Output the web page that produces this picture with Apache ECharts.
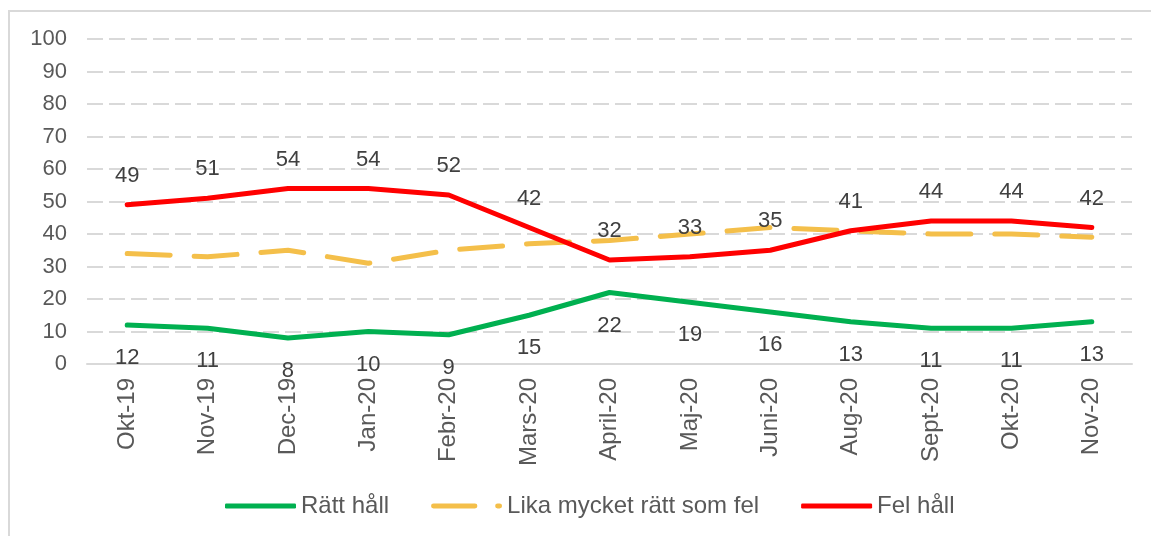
<!DOCTYPE html>
<html>
<head>
<meta charset="utf-8">
<script src="https://cdn.jsdelivr.net/npm/echarts@6/dist/echarts.min.js"></script>
<style>
  html, body { margin: 0; padding: 0; background: #fff; }
  #frame { position: absolute; left: 8px; top: 10px; width: 1150px; height: 540px; border: 2px solid #d9d9d9; box-sizing: border-box; }
  #chart { position: absolute; left: 0; top: 0; width: 1151px; height: 536px; }
</style>
</head>
<body>
<div id="frame"></div>
<div id="chart"></div>
<script>
const months = ['Okt-19', 'Nov-19', 'Dec-19', 'Jan-20', 'Febr-20', 'Mars-20', 'April-20', 'Maj-20', 'Juni-20', 'Aug-20', 'Sept-20', 'Okt-20', 'Nov-20']
const rattHall = [12, 11, 8, 10, 9, 15, 22, 19, 16, 13, 11, 11, 13]
const likaMycket = [34, 33, 35, 31, 35, 37, 38, 40, 42, 41, 40, 40, 39]
const felHall = [49, 51, 54, 54, 52, 42, 32, 33, 35, 41, 44, 44, 42]

const font = 'Liberation Sans, Arial, sans-serif'
const chart = echarts.init(document.getElementById('chart'))

// dash + dot, like the dashed legend sample
const dashIcon = 'path://M2,0 H44 A2.5,2.5 0 0 1 44,5 H2 A2.5,2.5 0 0 1 2,0 Z M67,0 H69 A2.5,2.5 0 0 1 69,5 H67 A2.5,2.5 0 0 1 67,0 Z'

chart.setOption({
  animation: false,
  textStyle: { fontFamily: font },
  grid: { left: 87, right: 19, top: 39, bottom: 172 },
  legend: {
    left: 225,
    top: 494,
    padding: 0,
    itemWidth: 71,
    itemHeight: 5,
    itemGap: 42,
    textStyle: { fontSize: 24, color: '#595959', fontFamily: font },
    data: [
      { name: 'Rätt håll', icon: 'roundRect' },
      { name: 'Lika mycket rätt som fel', icon: dashIcon },
      { name: 'Fel håll', icon: 'roundRect' }
    ]
  },
  xAxis: {
    type: 'category',
    data: months,
    boundaryGap: true,
    axisLine: { lineStyle: { color: '#d9d9d9', width: 2 } },
    axisTick: { show: false },
    axisLabel: { rotate: 90, margin: 14, fontSize: 24, color: '#595959', interval: 0 }
  },
  yAxis: {
    type: 'value',
    min: 0,
    max: 100,
    interval: 10,
    axisLine: { show: false },
    axisTick: { show: false },
    axisLabel: { fontSize: 22, color: '#595959', margin: 20 },
    splitLine: { lineStyle: { color: '#d9d9d9', width: 2, type: [16, 6] } }
  },
  series: [
    {
      name: 'Rätt håll',
      type: 'line',
      data: rattHall,
      symbol: 'circle',
      symbolSize: 0,
      lineStyle: { color: '#00b050', width: 5, cap: 'round' },
      itemStyle: { color: '#00b050' },
      label: { show: true, position: 'bottom', distance: 22, fontSize: 22, color: '#404040' }
    },
    {
      name: 'Lika mycket rätt som fel',
      type: 'line',
      data: likaMycket,
      symbol: 'none',
      lineStyle: { color: '#f4bf4a', width: 5, type: [43, 24], cap: 'round' },
      itemStyle: { color: '#f4bf4a' }
    },
    {
      name: 'Fel håll',
      type: 'line',
      data: felHall,
      symbol: 'circle',
      symbolSize: 0,
      lineStyle: { color: '#ff0000', width: 5, cap: 'round' },
      itemStyle: { color: '#ff0000' },
      label: { show: true, position: 'top', distance: 18, fontSize: 22, color: '#404040' }
    }
  ]
})
</script>
</body>
</html>
